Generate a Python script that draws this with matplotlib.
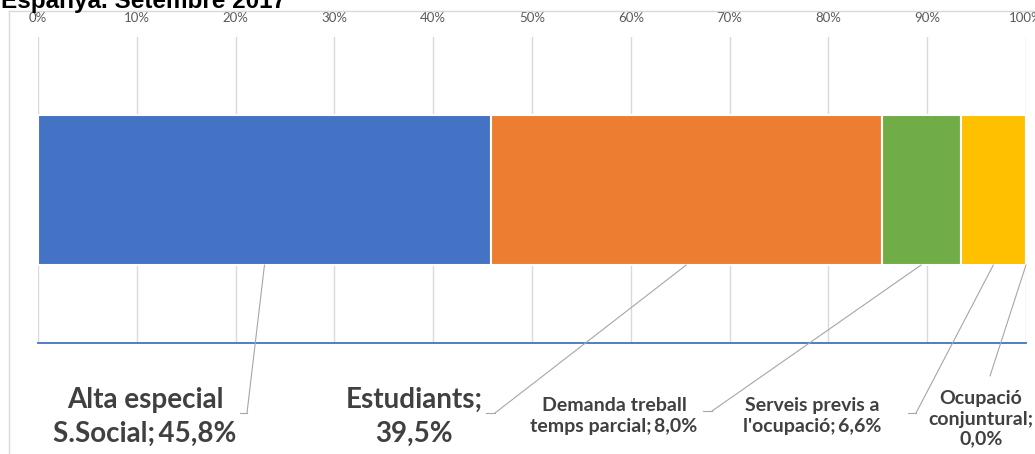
import matplotlib
matplotlib.use('Agg')
import matplotlib.pyplot as plt
from matplotlib.lines import Line2D
import numpy as np

# ---- data ----
categories = ['Alta especial\nS.Social', 'Estudiants', 'Demanda treball\ntemps parcial',
              "Serveis previs a\nl'ocupació", 'Ocupació\nconjuntural']
values = [45.8, 39.5, 8.0, 6.6, 0.0]
seps = [';\u2009', ';\n', ';\u2009', ';\u2009', ';\n']
colors = ['#4472C4', '#ED7D31', '#70AD47', '#FFC000', '#A5A5A5']
ticks = [0, 10, 20, 30, 40, 50, 60, 70, 80, 90, 100]

# label placement (image pixels: centre x, centre y of text, leader elbow x, y, elbow end x)
label_pos = [(145, 417, 247, 413, 240),
             (414, 417, 495, 413, 486),
             (614, 416, 712, 411, 703),
             (812, 416, 916, 413, 908),
             (981, 419, 990, 376, 990)]
big = [True, True, False, False, False]

W, H = 1035, 454
fig = plt.figure(figsize=(W / 100, H / 100), dpi=100)
ax = fig.add_axes([38 / W, 1 - 343 / H, (1026 - 38) / W, (343 - 37) / H])

vals = np.array(values)
share = vals / vals.sum() * 100
lefts = np.concatenate([[0], np.cumsum(share)[:-1]])
bar_h = 0.49
ax.barh([0.5] * len(share), share, left=lefts, height=bar_h, color=colors,
        edgecolor='white', linewidth=1.5, zorder=3)

ax.set_xlim(0, 100)
ax.set_ylim(0, 1)
ax.set_yticks([])
ax.set_xticks(ticks)
ax.set_xticklabels([f'{t}%' for t in ticks], fontsize=9.5, color='#595959', family='Lato')
ax.xaxis.tick_top()
ax.tick_params(axis='x', length=0, pad=9)
ax.grid(axis='x', color='#d9d9d9', linewidth=1, zorder=0)
for s in ['top', 'left', 'right']:
    ax.spines[s].set_visible(False)
ax.spines['bottom'].set_color('#4472C4')
ax.spines['bottom'].set_linewidth(1.3)

# labels with leader lines
bar_bot = 0.5 - bar_h / 2
for i in range(len(values)):
    cx, cy, ex, ey, hx = label_pos[i]
    txt = categories[i] + seps[i] + f'{values[i]:.1f}%'.replace('.', ',')
    if big[i]:
        fig.text(cx / W, 1 - cy / H, txt, ha='center', va='center', fontsize=20,
                 fontweight='bold', color='#404040', family='Lato', linespacing=1.4)
    else:
        fig.text(cx / W, 1 - cy / H, txt, ha='center', va='center', fontsize=14,
                 fontweight='bold', color='#404040', family='Lato', linespacing=1.22)
    anchor = lefts[i] + share[i] / 2
    ax.annotate('', xy=(anchor, bar_bot), xycoords='data',
                xytext=(ex, H - ey), textcoords='figure pixels',
                arrowprops=dict(arrowstyle='-', color='#a6a6a6', lw=0.8,
                                shrinkA=0, shrinkB=0),
                annotation_clip=False)
    if hx != ex:
        fig.add_artist(Line2D([ex / W, hx / W], [1 - ey / H, 1 - ey / H],
                              color='#a6a6a6', lw=0.8))

# outer frame lines and clipped title
fig.add_artist(Line2D([9 / W, 1], [1 - 11 / H, 1 - 11 / H], color='#d9d9d9', lw=1))
fig.add_artist(Line2D([9 / W, 9 / W], [1 - 11 / H, 0], color='#d9d9d9', lw=1))
fig.text(0.001, 1 - 8 / H, 'Espanya. Setembre 2017', ha='left', va='baseline',
         fontsize=17.5, fontweight='bold', color='black', family='Liberation Sans')

fig.savefig('out.png', dpi=100)
